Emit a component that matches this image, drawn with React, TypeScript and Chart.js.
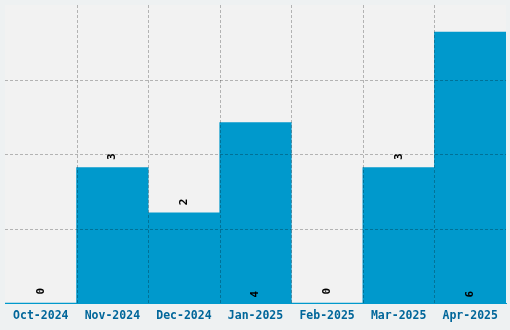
import React, { useEffect, useRef } from "react";
import { Chart, registerables } from "chart.js";

Chart.register(...registerables);

const categories = ["Oct-2024", "Nov-2024", "Dec-2024", "Jan-2025", "Feb-2025", "Mar-2025", "Apr-2025"];
const values = [0, 3, 2, 4, 0, 3, 6];
const yTicks = [0, 1.65, 3.3, 4.95, 6.6];

const FONT = "'DejaVu Sans Mono', monospace";
const GRID = "rgba(0,0,0,0.26)";

const gridPlugin = {
  id: "dashGrid",
  afterDatasetsDraw(chart: any) {
    const { ctx, chartArea, scales } = chart;
    const xs = scales.x;
    const ys = scales.y;
    ctx.save();
    ctx.strokeStyle = GRID;
    ctx.lineWidth = 1;
    ctx.setLineDash([3, 2]);
    ctx.beginPath();
    yTicks.slice(1, -1).forEach((v) => {
      const y = Math.round(ys.getPixelForValue(v)) + 0.5;
      ctx.moveTo(chartArea.left, y);
      ctx.lineTo(chartArea.right, y);
    });
    for (let i = 1; i < categories.length; i++) {
      const x = Math.round(xs.getPixelForValue(i - 0.5)) + 0.5;
      ctx.moveTo(x, chartArea.top);
      ctx.lineTo(x, chartArea.bottom);
    }
    ctx.stroke();
    ctx.restore();
  },
};

const labelPlugin = {
  id: "valueLabels",
  afterDraw(chart: any) {
    const ctx = chart.ctx;
    const meta = chart.getDatasetMeta(0);
    const yScale = chart.scales.y;
    const base = yScale.getPixelForValue(0);
    const half = yScale.max / 2;
    ctx.save();
    ctx.font = `bold 11px ${FONT}`;
    ctx.fillStyle = "#000000";
    ctx.textAlign = "center";
    ctx.textBaseline = "middle";
    meta.data.forEach((bar: any, i: number) => {
      const v = values[i];
      let y: number;
      if (v === 0) y = base - 12;
      else if (v > half) y = base - 9;
      else y = bar.y - 11;
      ctx.save();
      ctx.translate(bar.x, y);
      ctx.rotate(-Math.PI / 2);
      ctx.fillText(String(v), 0, 0);
      ctx.restore();
    });
    ctx.restore();
  },
};

const areaBg = {
  id: "areaBg",
  beforeDraw(chart: any) {
    const { ctx, chartArea } = chart;
    ctx.save();
    ctx.fillStyle = "#f2f2f2";
    ctx.fillRect(chartArea.left, chartArea.top, chartArea.right - chartArea.left, chartArea.bottom - chartArea.top);
    ctx.restore();
  },
};

export default function App() {
  const ref = useRef<HTMLCanvasElement>(null);
  useEffect(() => {
    document.body.style.margin = "0";
    document.body.style.background = "#eef1f2";
    const chart = new Chart(ref.current!, {
      type: "bar",
      data: {
        labels: categories,
        datasets: [
          {
            data: values,
            backgroundColor: "#0099cc",
            categoryPercentage: 1,
            barPercentage: 1,
            borderWidth: 0,
          },
        ],
      },
      options: {
        animation: false,
        responsive: false,
        layout: { padding: { left: 5, right: 4, top: 5, bottom: 1 } },
        plugins: { legend: { display: false }, tooltip: { enabled: false } },
        scales: {
          x: {
            grid: { display: false, drawTicks: false },
            border: { display: true, color: "#0099cc", width: 1, z: 2 },
            ticks: {
              color: "#00669a",
              font: { family: FONT, size: 11.5, weight: "bold" },
              padding: 6,
              maxRotation: 0,
              autoSkip: false,
            },
          },
          y: {
            display: false,
            min: 0,
            max: 6.6,
          },
        },
      },
      plugins: [areaBg, gridPlugin, labelPlugin],
    } as any);
    return () => chart.destroy();
  }, []);
  return (
    <div style={{ position: "fixed", left: 0, top: 0, width: 510, height: 330, background: "#eef1f2" }}>
      <canvas ref={ref} width={510} height={330} style={{ width: 510, height: 330, display: "block" }} />
    </div>
  );
}
